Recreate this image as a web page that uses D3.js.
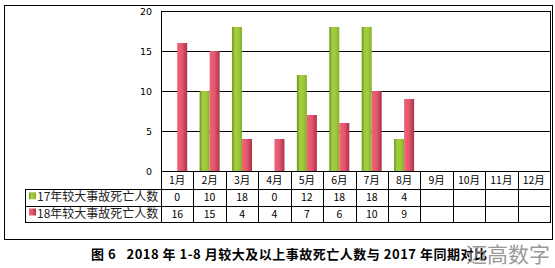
<!DOCTYPE html>
<html>
<head>
<meta charset="utf-8">
<script src="https://cdn.jsdelivr.net/npm/d3@7"></script>
<style>
  body { margin: 0; background: #fff; }
  svg { display: block; }
</style>
</head>
<body>
<div id="chart"></div>
<script>
// data
const months = ["1月", "2月", "3月", "4月", "5月", "6月", "7月", "8月", "9月", "10月", "11月", "12月"];
const series17 = [0, 10, 18, 0, 12, 18, 18, 4, null, null, null, null];
const series18 = [16, 15, 4, 4, 7, 6, 10, 9, null, null, null, null];
const seriesNames = ["17年较大事故死亡人数", "18年较大事故死亡人数"];
const yTicks = [0, 5, 10, 15, 20];
const caption = "图 6\u00a0\u00a0 2018 年 1-8 月较大及以上事故死亡人数与 2017 年同期对比";

const width = 555, height = 268;
const plot = { left: 161, right: 550, top: 11, bottom: 171 };
const rowH = [18, 16.5, 16];   // header row, series rows
const legendLeft = 25;

const svg = d3.select("#chart").append("svg")
  .attr("width", width).attr("height", height);

const defs = svg.append("defs");
const gGreen = defs.append("linearGradient").attr("id", "gGreen");
[["0%", "#6d8f1f"], ["30%", "#a4cf3e"], ["65%", "#9dc93a"], ["100%", "#86ad2c"]]
  .forEach(([o, c]) => gGreen.append("stop").attr("offset", o).attr("stop-color", c));
const gRed = defs.append("linearGradient").attr("id", "gRed");
[["0%", "#ef6478"], ["50%", "#e4566c"], ["100%", "#a93349"]]
  .forEach(([o, c]) => gRed.append("stop").attr("offset", o).attr("stop-color", c));

// outer frame
svg.append("rect")
  .attr("x", 4.5).attr("y", 5.5).attr("width", 548).attr("height", 234)
  .attr("fill", "none").attr("stroke", "#000");

const x = d3.scaleBand().domain(months).range([plot.left, plot.right]);
const y = d3.scaleLinear().domain([0, 20]).range([plot.bottom, plot.top]);

// grid lines
svg.append("g")
  .attr("transform", `translate(${plot.left},0)`)
  .call(d3.axisRight(y).tickValues(yTicks).tickSize(plot.right - plot.left).tickFormat(""))
  .call(g => g.select(".domain").remove())
  .call(g => g.selectAll("line").attr("stroke", "#000").attr("shape-rendering", "crispEdges"));

// y labels
svg.append("g")
  .attr("transform", `translate(${plot.left},0)`)
  .call(d3.axisLeft(y).tickValues(yTicks).tickSize(0).tickPadding(9))
  .call(g => g.select(".domain").remove())
  .call(g => g.selectAll("text")
    .attr("font-family", "DejaVu Sans, Verdana, sans-serif")
    .attr("font-size", 9.5).attr("fill", "#000"));

// plot frame
svg.append("rect")
  .attr("x", plot.left + 0.5).attr("y", plot.top + 0.5)
  .attr("width", plot.right - plot.left).attr("height", plot.bottom - plot.top)
  .attr("fill", "none").attr("stroke", "#000");

// bars
const bw = 10;
const barG = svg.append("g");
barG.selectAll("rect.g17")
  .data(months.map((m, i) => ({ m, v: series17[i] })).filter(d => d.v))
  .join("rect")
  .attr("x", d => x(d.m) + x.bandwidth() / 2 - bw)
  .attr("y", d => y(d.v))
  .attr("width", bw)
  .attr("height", d => y(0) - y(d.v))
  .attr("fill", "url(#gGreen)");
barG.selectAll("rect.g18")
  .data(months.map((m, i) => ({ m, v: series18[i] })).filter(d => d.v))
  .join("rect")
  .attr("x", d => x(d.m) + x.bandwidth() / 2)
  .attr("y", d => y(d.v))
  .attr("width", bw)
  .attr("height", d => y(0) - y(d.v))
  .attr("fill", "url(#gRed)");

// data table
const t0 = plot.bottom;
const t1 = t0 + rowH[0], t2 = t1 + rowH[1], t3 = t2 + rowH[2];
const tbl = svg.append("g").attr("stroke", "#000").attr("shape-rendering", "crispEdges");
[t0].forEach(yy => tbl.append("line").attr("x1", plot.left).attr("x2", plot.right + 1).attr("y1", yy + 0.5).attr("y2", yy + 0.5));
[t1, t2, t3].forEach(yy => tbl.append("line").attr("x1", legendLeft).attr("x2", plot.right + 1).attr("y1", yy + 0.5).attr("y2", yy + 0.5));
months.concat(["end"]).forEach((m, i) => {
  const xx = m === "end" ? plot.right : x(m);
  tbl.append("line").attr("x1", Math.round(xx) + 0.5).attr("x2", Math.round(xx) + 0.5).attr("y1", t0).attr("y2", t3 + 1);
});
tbl.append("line").attr("x1", legendLeft + 0.5).attr("x2", legendLeft + 0.5).attr("y1", t1).attr("y2", t3 + 1);

const cellFont = "'Noto Sans CJK SC', sans-serif";
svg.append("g").selectAll("text")
  .data(months).join("text")
  .attr("x", d => x(d) + x.bandwidth() / 2)
  .attr("y", t0 + rowH[0] / 2 + 4)
  .attr("text-anchor", "middle")
  .attr("font-family", cellFont).attr("font-size", 10.5)
  .text(d => d);

[series17, series18].forEach((s, r) => {
  const cy = (r === 0 ? t1 + rowH[1] / 2 : t2 + rowH[2] / 2) + 4;
  svg.append("g").selectAll("text")
    .data(months.map((m, i) => ({ m, v: s[i] })).filter(d => d.v !== null))
    .join("text")
    .attr("x", d => x(d.m) + x.bandwidth() / 2)
    .attr("y", cy)
    .attr("text-anchor", "middle")
    .attr("font-family", cellFont).attr("font-size", 10.5)
    .text(d => d.v);
  svg.append("rect")
    .attr("x", legendLeft + 4).attr("y", cy - 9)
    .attr("width", 7).attr("height", 7)
    .attr("fill", r === 0 ? "url(#gGreen)" : "url(#gRed)");
  svg.append("text")
    .attr("x", legendLeft + 12).attr("y", cy)
    .attr("font-family", cellFont).attr("font-size", 12)
    .attr("fill", "#222")
    .text(seriesNames[r]);
});

// caption
svg.append("text")
  .attr("x", 91).attr("y", 259)
  .attr("font-family", "'Noto Sans CJK SC', serif")
  .attr("font-weight", "bold").attr("font-size", 13)
  .attr("textLength", 396).attr("lengthAdjust", "spacing")
  .text(caption);

// watermark
svg.append("text")
  .attr("x", 550).attr("y", 262)
  .attr("text-anchor", "end")
  .attr("font-family", "'Noto Sans CJK SC', sans-serif")
  .attr("font-size", 21).attr("fill", "#888").attr("opacity", 0.85)
  .text("迈高数字");
</script>
</body>
</html>
